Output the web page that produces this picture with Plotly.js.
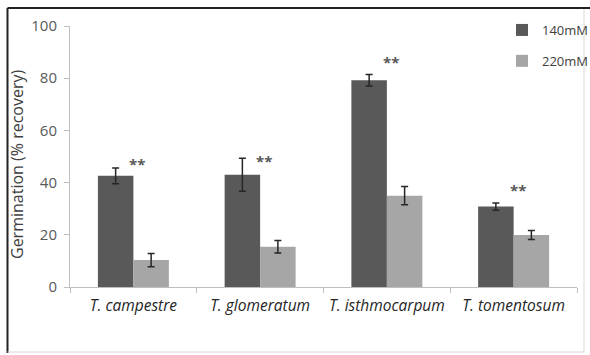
<!DOCTYPE html>
<html>
<head>
<meta charset="utf-8">
<script src="https://cdn.plot.ly/plotly-3.0.1.min.js"></script>
<style>html,body{margin:0;padding:0;background:#fff;}#chart{width:590px;height:355px;}</style>
</head>
<body>
<div id="chart"></div>
<script>
const categories = ["T. campestre", "T. glomeratum", "T. isthmocarpum", "T. tomentosum"];
const seriesNames = ["140mM", "220mM"];
const values140 = [42.6, 43.0, 79.2, 30.8];
const err140 = [3.0, 6.3, 2.2, 1.4];
const values220 = [10.3, 15.4, 35.0, 19.9];
const err220 = [2.5, 2.4, 3.5, 1.7];
const starLabels = ["**", "**", "**", "**"];
const starY = [47.1, 48.3, 86.2, 37.2];
const yTicks = [0, 20, 40, 60, 80, 100];
const yTitle = 'Germination (% recovery)';

const tickLabels = categories.map(c => '<i>' + c + '</i>');
const FONT = '"Open Sans", Lato, sans-serif';

const traces = [
  {
    type: 'bar', name: seriesNames[0], x: categories, y: values140,
    marker: {color: '#595959'}, legendgroup: 'a',
    error_y: {type: 'data', array: err140, visible: true, color: '#262626', thickness: 1.5, width: 3.5}
  },
  {
    type: 'bar', name: seriesNames[1], x: categories, y: values220,
    marker: {color: '#a6a6a6'}, legendgroup: 'b',
    error_y: {type: 'data', array: err220, visible: true, color: '#262626', thickness: 1.5, width: 3.5}
  }
];

const L = 70, R = 13, T = 26, B = 68, W = 590, H = 355;
const pw = W - L - R, ph = H - T - B;
const px = v => (v - L) / pw;
const py = v => (H - B - v) / ph;

const annotations = categories.map((c, i) => ({
  x: c, y: starY[i], xref: 'x', yref: 'y', text: '<b>' + starLabels[i] + '</b>',
  showarrow: false, xshift: 4, font: {size: 15, color: '#595959', family: FONT}
}));
annotations.push({
  x: px(17), y: py(165), xref: 'paper', yref: 'paper', text: yTitle, textangle: -90,
  showarrow: false, xanchor: 'center', yanchor: 'middle',
  font: {size: 16, color: '#404040', family: FONT}
});

const layout = {
  width: W, height: H,
  margin: {l: L, r: R, t: T, b: B, pad: 0, autoexpand: false},
  paper_bgcolor: '#ffffff', plot_bgcolor: '#ffffff',
  font: {family: FONT, color: '#595959', size: 13},
  barmode: 'group', bargap: 0.44, bargroupgap: 0,
  showlegend: true,
  legend: {
    x: px(502), xanchor: 'left', y: py(15), yanchor: 'top',
    font: {size: 13, color: '#404040', family: FONT}, traceorder: 'grouped', tracegroupgap: 11,
    bgcolor: 'rgba(0,0,0,0)', itemwidth: 30
  },
  xaxis: {
    type: 'category', tickvals: categories, ticktext: tickLabels, tickangle: 0,
    tickfont: {size: 15.5, color: '#262626', family: FONT},
    showline: true, linecolor: '#bfbfbf', linewidth: 1,
    ticks: 'outside', tickson: 'boundaries', ticklen: 5, tickcolor: '#bfbfbf',
    ticklabelstandoff: 4,
    showgrid: false, zeroline: false
  },
  yaxis: {
    range: [0, 100], tickvals: yTicks, ticks: 'outside', ticklen: 5, tickcolor: '#bfbfbf',
    showline: true, linecolor: '#bfbfbf', linewidth: 1,
    showgrid: false, zeroline: false,
    ticklabelstandoff: 4,
    tickfont: {size: 15, color: '#595959', family: FONT}
  },
  annotations: annotations,
  shapes: [
    {type: 'line', xref: 'paper', yref: 'paper', x0: px(7.5), x1: px(590), y0: py(8), y1: py(8), line: {color: '#222222', width: 2}},
    {type: 'line', xref: 'paper', yref: 'paper', x0: px(7.5), x1: px(7.5), y0: py(8), y1: py(353), line: {color: '#222222', width: 2}},
    {type: 'line', xref: 'paper', yref: 'paper', x0: px(7.5), x1: px(584), y0: py(352), y1: py(352), line: {color: '#d9d9d9', width: 1}},
    {type: 'line', xref: 'paper', yref: 'paper', x0: px(584), x1: px(584), y0: py(9), y1: py(352), line: {color: '#d9d9d9', width: 1}}
  ]
};

Plotly.newPlot('chart', traces, layout, {displayModeBar: false, staticPlot: true});
</script>
</body>
</html>
